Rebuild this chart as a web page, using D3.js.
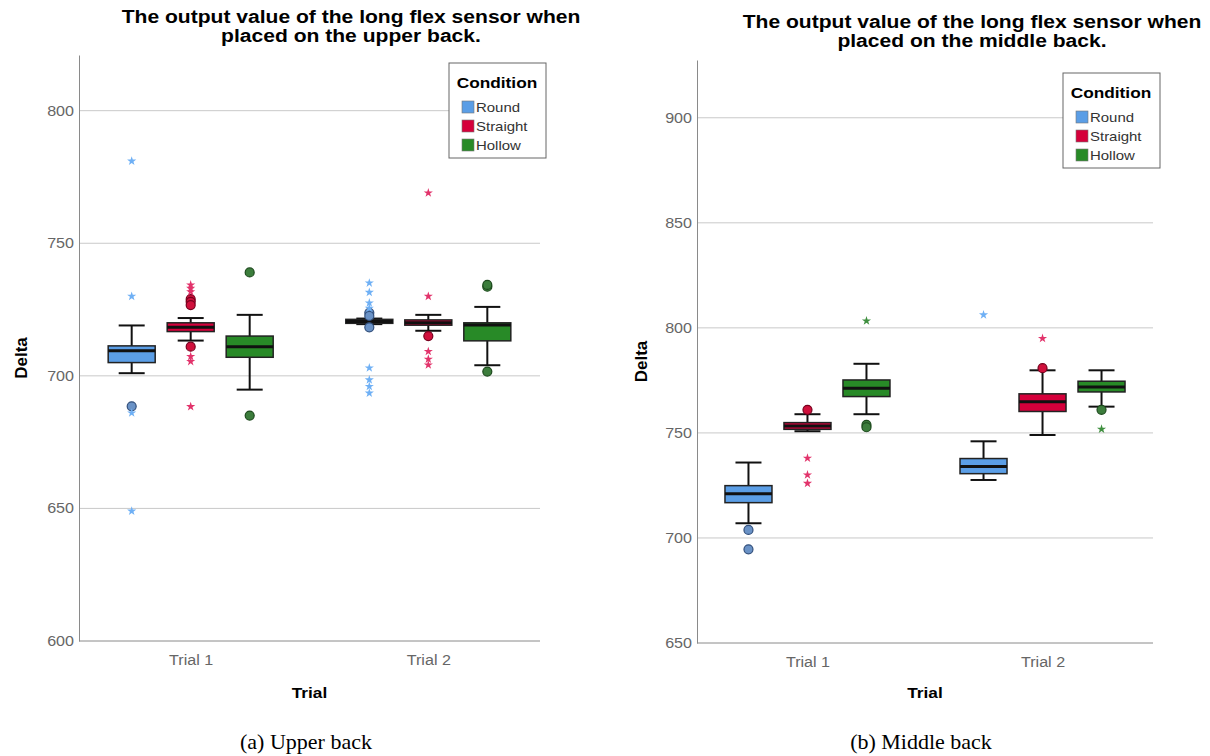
<!DOCTYPE html>
<html>
<head>
<meta charset="utf-8">
<script src="https://cdn.jsdelivr.net/npm/d3@7"></script>
<style>
  body { margin: 0; background: #fff; }
  #chart text { font-family: "Liberation Sans", Arial, sans-serif; }
  #chart text.caption { font-family: "Liberation Serif", "DejaVu Serif", serif; }
</style>
</head>
<body>
<svg id="chart" width="1210" height="756"></svg>
<script>
// Categories
const trials = ["Trial 1", "Trial 2"];
const conditions = ["Round", "Straight", "Hollow"];

// Box stats per condition, per trial: [whiskerLow, q1, median, q3, whiskerHigh]
const upperStats = [
  [[701, 705, 709.5, 711.3, 719], [719.5, 719.8, 720.5, 721.3, 721.6]],
  [[713.3, 716.7, 718.3, 720, 721.8], [717, 719.1, 720, 721.1, 723]],
  [[694.8, 707, 711, 715, 723], [704, 713.2, 719.2, 720, 726]]
];
const upperCircles = [
  [[688.5], [723.8, 722.6, 718.3]],
  [[728.9, 727.9, 726.7, 711], [715]],
  [[739, 685], [733.6, 734.3, 701.6]]
];
const upperStars = [
  [[781, 730, 686, 649], [735, 731.5, 727.5, 725.5, 703, 698.5, 696, 693.5]],
  [[734.3, 733, 731.7, 707.3, 705.4, 688.4], [769, 730, 709.2, 706.3, 704.1]],
  [[], []]
];
const upperTicks = [600, 650, 700, 750, 800];

const middleStats = [
  [[707, 716.8, 721, 724.9, 735.9], [727.6, 730.6, 734, 737.8, 746]],
  [[750.8, 751.7, 753.3, 754.9, 758.9], [749, 760.2, 764.8, 768.6, 779.8]],
  [[758.9, 767.3, 771.3, 775.2, 782.9], [762.5, 769.5, 771.8, 774.6, 779.8]]
];
const middleCircles = [
  [[703.8, 694.6], []],
  [[761], [780.8]],
  [[753.8, 752.7], [761]]
];
const middleStars = [
  [[], [806.2]],
  [[738, 730, 726], [795]],
  [[803.3], [751.8]]
];
const middleTicks = [650, 700, 750, 800, 850, 900];

// Colours
const fillColors = ["#5b9ee6", "#d5003b", "#288a27"];
const circleFill = ["#6a92c6", "#d0103c", "#3c7d3c"];
const circleStroke = ["#33507c", "#78001e", "#1d4a1d"];
const starColors = ["#6fb0f5", "#e2336b", "#3f8f3f"];

const svg = d3.select("#chart");

// Stretch text horizontally (source chart was widened)
function stretchText(sel, k) {
  sel.each(function () {
    const w = this.getComputedTextLength();
    d3.select(this).attr("textLength", w * k).attr("lengthAdjust", "spacingAndGlyphs");
  });
}

function drawPanel(p) {
  const g = svg.append("g");
  const y = d3.scaleLinear().domain(p.domain).range([p.bottom, p.top]);
  const x0 = d3.scalePoint().domain(trials).range([p.left, p.right]).padding(0.47);
  const x1 = d3.scalePoint().domain(conditions).range([-59, 59]);
  const boxW = 47;
  const capW = 26;

  // gridlines
  g.selectAll(".grid")
    .data(p.ticks.slice(1))
    .join("line")
    .attr("x1", p.left).attr("x2", p.right)
    .attr("y1", d => y(d)).attr("y2", d => y(d))
    .attr("stroke", "#c9c9c9").attr("stroke-width", 1);

  // y axis
  const yAxis = g.append("g")
    .attr("transform", "translate(" + p.left + ",0)")
    .call(d3.axisLeft(y).tickValues(p.ticks).tickSize(0).tickPadding(5));
  yAxis.select(".domain").attr("stroke", "#8a8a8a");
  yAxis.selectAll("text").attr("font-size", 14).attr("fill", "#666");
  stretchText(yAxis.selectAll("text"), 1.15);

  // x axis
  const xAxis = g.append("g")
    .attr("transform", "translate(0," + p.bottom + ")")
    .call(d3.axisBottom(x0).tickSize(0).tickPadding(14));
  xAxis.select(".domain").attr("d", "M" + p.left + ",0H" + p.right).attr("stroke", "#8a8a8a");
  xAxis.selectAll("text").attr("font-size", 14).attr("fill", "#666");
  stretchText(xAxis.selectAll("text"), 1.15);

  // boxes
  conditions.forEach((c, ci) => {
    trials.forEach((t, ti) => {
      const s = p.stats[ci][ti];
      const cx = x0(t) + x1(c);
      const bg = g.append("g");
      bg.append("line")
        .attr("x1", cx).attr("x2", cx)
        .attr("y1", y(s[0])).attr("y2", y(s[4]))
        .attr("stroke", "#111").attr("stroke-width", 2);
      [s[0], s[4]].forEach(v => {
        bg.append("line")
          .attr("x1", cx - capW / 2).attr("x2", cx + capW / 2)
          .attr("y1", y(v)).attr("y2", y(v))
          .attr("stroke", "#111").attr("stroke-width", 2);
      });
      bg.append("rect")
        .attr("x", cx - boxW / 2).attr("width", boxW)
        .attr("y", y(s[3])).attr("height", Math.max(1, y(s[1]) - y(s[3])))
        .attr("fill", fillColors[ci]).attr("stroke", "#222").attr("stroke-width", 1.5);
      bg.append("line")
        .attr("x1", cx - boxW / 2).attr("x2", cx + boxW / 2)
        .attr("y1", y(s[2])).attr("y2", y(s[2]))
        .attr("stroke", "#111").attr("stroke-width", 3);

      bg.selectAll(".circ")
        .data(p.circles[ci][ti])
        .join("circle")
        .attr("cx", cx).attr("cy", d => y(d)).attr("r", 4.5)
        .attr("fill", circleFill[ci]).attr("stroke", circleStroke[ci]).attr("stroke-width", 1.2);

      bg.selectAll(".star")
        .data(p.stars[ci][ti])
        .join("path")
        .attr("d", d3.symbol().type(d3.symbolStar).size(26))
        .attr("transform", d => "translate(" + cx + "," + y(d) + ")")
        .attr("fill", starColors[ci]);
    });
  });

  // axis titles
  g.append("text")
    .attr("transform", "translate(" + p.yLabelX + "," + ((p.top + p.bottom) / 2 + 10) + ") rotate(-90)")
    .attr("text-anchor", "middle").attr("font-weight", "bold").attr("font-size", 17)
    .text("Delta");
  const xl = g.append("text")
    .attr("x", (p.left + p.right) / 2).attr("y", 698)
    .attr("text-anchor", "middle").attr("font-weight", "bold").attr("font-size", 15)
    .text("Trial");
  stretchText(xl, 1.15);

  // chart title
  const tt = g.append("text")
    .attr("text-anchor", "middle").attr("font-weight", "bold").attr("font-size", 18);
  p.title.forEach((line, i) => {
    tt.append("tspan").attr("x", p.titleX).attr("y", p.titleY + i * 19).text(line);
  });
  tt.selectAll("tspan").call(stretchText, 1.17);

  // legend
  const lg = g.append("g").attr("transform", "translate(" + p.legendX + "," + p.legendY + ")");
  lg.append("rect").attr("width", 97).attr("height", 95)
    .attr("fill", "#fff").attr("stroke", "#666").attr("stroke-width", 1);
  const lt = lg.append("text").attr("x", 48).attr("y", 25)
    .attr("text-anchor", "middle").attr("font-weight", "bold").attr("font-size", 15)
    .text("Condition");
  stretchText(lt, 1.15);
  conditions.forEach((c, i) => {
    lg.append("rect")
      .attr("x", 13).attr("y", 38 + i * 19).attr("width", 12).attr("height", 12)
      .attr("fill", fillColors[i]).attr("stroke", "#777").attr("stroke-width", 0.6);
    const et = lg.append("text")
      .attr("x", 27).attr("y", 49 + i * 19)
      .attr("font-size", 13).attr("fill", "#333").text(c);
    stretchText(et, 1.15);
  });

  // caption
  svg.append("text")
    .attr("class", "caption")
    .attr("x", p.captionX).attr("y", 749)
    .attr("text-anchor", "middle")
    .attr("font-size", 22)
    .text(p.caption);
}

drawPanel({
  left: 79, right: 540, top: 55, bottom: 641, domain: [600, 821],
  ticks: upperTicks, stats: upperStats, circles: upperCircles, stars: upperStars,
  yLabelX: 27, title: ["The output value of the long flex sensor when", "placed on the upper back."],
  titleX: 351, titleY: 23, legendX: 449, legendY: 63,
  caption: "(a) Upper back", captionX: 306
});

drawPanel({
  left: 697, right: 1153, top: 60, bottom: 643, domain: [650, 927.5],
  ticks: middleTicks, stats: middleStats, circles: middleCircles, stars: middleStars,
  yLabelX: 647, title: ["The output value of the long flex sensor when", "placed on the middle back."],
  titleX: 972, titleY: 28, legendX: 1063, legendY: 73,
  caption: "(b) Middle back", captionX: 921
});
</script>
</body>
</html>
